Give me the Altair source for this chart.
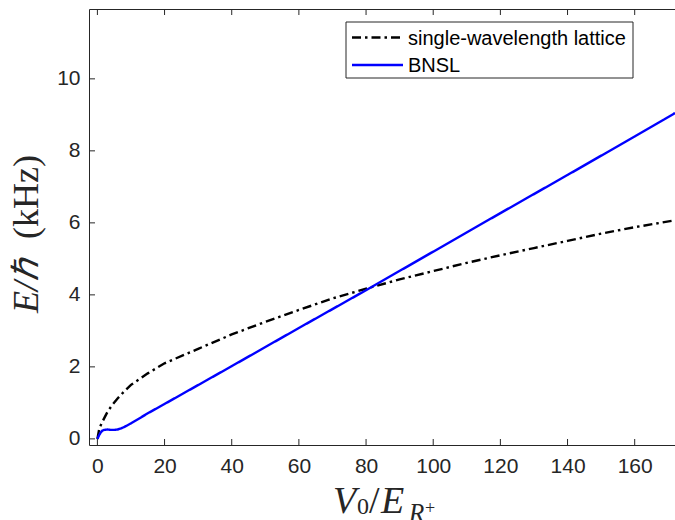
import altair as alt
import pandas as pd

# ---- data ----
single_x = [0, 0.5, 1, 2, 3, 4.4, 6, 8, 10, 15, 20, 30, 40, 50, 60, 70, 80, 90,
            100, 110, 120, 130, 140, 150, 160, 172]
single_y = [0, 0.25, 0.38, 0.57, 0.75, 0.94, 1.12, 1.32, 1.5, 1.82, 2.1, 2.5, 2.9,
            3.25, 3.58, 3.9, 4.17, 4.43, 4.66, 4.89, 5.1, 5.3, 5.5, 5.7, 5.88, 6.07]
bnsl_x = [0, 0.5, 1, 1.5, 2, 3, 4, 5, 6, 7, 8, 10, 15, 20, 40, 60, 80, 100, 120,
          140, 160, 172]
bnsl_y = [0, 0.1, 0.18, 0.23, 0.25, 0.26, 0.25, 0.25, 0.26, 0.29, 0.33, 0.43, 0.71,
          0.97, 2.02, 3.08, 4.13, 5.2, 6.27, 7.33, 8.4, 9.05]
series_names = ["single-wavelength lattice", "BNSL"]
series_colors = ["#000000", "#0000ff"]
series_dash = [[9, 4, 2.5, 4], [1, 0]]
x_ticks = [0, 20, 40, 60, 80, 100, 120, 140, 160]
y_ticks = [0, 2, 4, 6, 8, 10]

df = pd.concat([
    pd.DataFrame({"x": single_x, "y": single_y, "s": series_names[0]}),
    pd.DataFrame({"x": bnsl_x, "y": bnsl_y, "s": series_names[1]}),
])

W, H = 586, 436
XDOM = [-2.5, 172]
YDOM = [-0.17, 11.94]
AX = "#262626"
SANS = "Liberation Sans"
SERIF = "Liberation Serif"
LW = 2.4

xs = alt.Scale(domain=XDOM, nice=False, zero=False)
ys = alt.Scale(domain=YDOM, nice=False, zero=False)

lines = alt.Chart(df).mark_line(strokeWidth=LW, clip=True).encode(
    x=alt.X("x:Q", scale=xs,
            axis=alt.Axis(values=x_ticks, ticks=False, domain=False, grid=False,
                          labelFont=SANS, labelFontSize=21, labelColor=AX,
                          labelPadding=10, title=None)),
    y=alt.Y("y:Q", scale=ys,
            axis=alt.Axis(values=y_ticks, ticks=False, domain=False, grid=False,
                          labelFont=SANS, labelFontSize=21, labelColor=AX,
                          labelPadding=9, title=None)),
    color=alt.Color("s:N", scale=alt.Scale(domain=series_names, range=series_colors),
                    legend=None),
    strokeDash=alt.StrokeDash("s:N", scale=alt.Scale(domain=series_names,
                                                     range=series_dash),
                              legend=None),
    order="x:Q",
    detail="s:N",
)

xt = pd.DataFrame({"v": x_ticks})
yt = pd.DataFrame({"v": y_ticks})
xtick_bot = alt.Chart(xt).mark_rule(color=AX, strokeWidth=1).encode(
    x=alt.X("v:Q", scale=xs), y=alt.value(H), y2=alt.value(H - 6))
xtick_top = alt.Chart(xt).mark_rule(color=AX, strokeWidth=1).encode(
    x=alt.X("v:Q", scale=xs), y=alt.value(0), y2=alt.value(6))
ytick_l = alt.Chart(yt).mark_rule(color=AX, strokeWidth=1).encode(
    y=alt.Y("v:Q", scale=ys), x=alt.value(0), x2=alt.value(6))

# ---- legend box (drawn as marks) ----
leg_box = alt.Chart(pd.DataFrame({"a": [0]})).mark_rect(
    fill="white", stroke=AX, strokeWidth=1).encode(
    x=alt.value(257), x2=alt.value(544), y=alt.value(13), y2=alt.value(69))
leg_items = []
for i, (name, col, dash) in enumerate(zip(series_names, series_colors, series_dash)):
    yy = 28.5 + i * 27.5
    d1 = pd.DataFrame({"n": [name]})
    leg_items.append(alt.Chart(d1).mark_rule(color=col, strokeWidth=LW,
                                             strokeDash=dash).encode(
        x=alt.value(263), x2=alt.value(314), y=alt.value(yy)))
    leg_items.append(alt.Chart(d1).mark_text(
        font=SANS, fontSize=20, align="left", baseline="middle", color="#000000").encode(
        x=alt.value(319), y=alt.value(yy + 1), text="n:N"))

# ---- axis titles as text pieces (LaTeX-like) ----
def txt(t, x, y, size, italic=True, angle=0, align="left"):
    kw = dict(font=SERIF, fontSize=size, align=align, baseline="alphabetic",
              color=AX)
    if italic:
        kw["fontStyle"] = "italic"
    if angle:
        kw["angle"] = angle
    return alt.Chart(pd.DataFrame({"t": [t]})).mark_text(**kw).encode(
        x=alt.value(x), y=alt.value(y), text="t:N")

titles = [
    txt("V", 244, 504, 38),
    txt("0", 268, 505, 24, italic=False),
    txt("/", 280, 504, 38, italic=False),
    txt("E", 292, 504, 38),
    txt("R", 320, 512, 25),
    txt("+", 336, 505, 18, italic=False),
    txt("E/ℏ", -51, 304, 36, angle=270, align="left"),
    txt("(kHz)", -51, 146, 36, italic=False, angle=270, align="right"),
]

chart = alt.layer(lines, xtick_bot, xtick_top, ytick_l, leg_box, *leg_items,
                  *titles).properties(
    width=W, height=H,
    autosize=alt.AutoSizeParams(type="none"),
    padding={"left": 89, "top": 9, "right": 0, "bottom": 75},
).configure_view(stroke=AX, strokeWidth=1)

chart.save("out.html", embed_options={"renderer": "svg", "actions": False})
